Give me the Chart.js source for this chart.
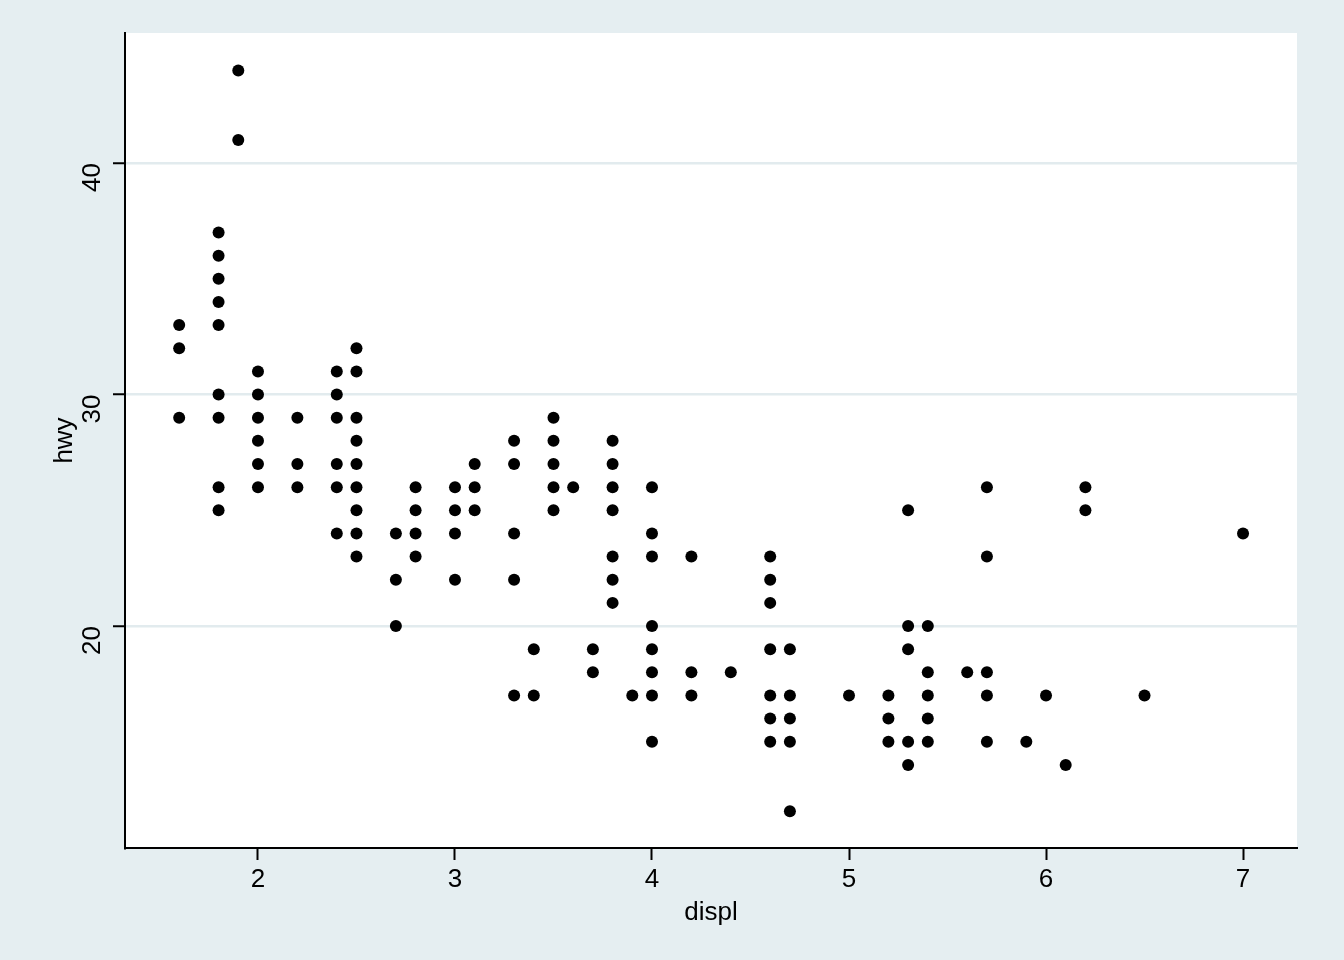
<!DOCTYPE html>
<html>
<head>
<meta charset="utf-8">
<script src="https://cdn.jsdelivr.net/npm/chart.js@4"></script>
<style>
  html, body { margin: 0; padding: 0; background: #e5eef1; }
  #wrap { width: 1344px; height: 960px; }
</style>
</head>
<body>
<div id="wrap"><canvas id="chart" width="1344" height="960"></canvas></div>
<script>
// engine displacement (litres) and highway mpg, one entry per dot
const displ = [
  1.6, 1.6, 1.6,
  1.8, 1.8, 1.8, 1.8, 1.8, 1.8, 1.8, 1.8, 1.8,
  1.9, 1.9,
  2.0, 2.0, 2.0, 2.0, 2.0, 2.0,
  2.2, 2.2, 2.2,
  2.4, 2.4, 2.4, 2.4, 2.4, 2.4,
  2.5, 2.5, 2.5, 2.5, 2.5, 2.5, 2.5, 2.5, 2.5,
  2.7, 2.7, 2.7,
  2.8, 2.8, 2.8, 2.8,
  3.0, 3.0, 3.0, 3.0,
  3.1, 3.1, 3.1,
  3.3, 3.3, 3.3, 3.3, 3.3,
  3.4, 3.4,
  3.5, 3.5, 3.5, 3.5, 3.5,
  3.6,
  3.7, 3.7,
  3.8, 3.8, 3.8, 3.8, 3.8, 3.8, 3.8,
  3.9,
  4.0, 4.0, 4.0, 4.0, 4.0, 4.0, 4.0, 4.0,
  4.2, 4.2, 4.2,
  4.4,
  4.6, 4.6, 4.6, 4.6, 4.6, 4.6, 4.6,
  4.7, 4.7, 4.7, 4.7, 4.7,
  5.0,
  5.2, 5.2, 5.2,
  5.3, 5.3, 5.3, 5.3, 5.3,
  5.4, 5.4, 5.4, 5.4, 5.4,
  5.6,
  5.7, 5.7, 5.7, 5.7, 5.7,
  5.9,
  6.0,
  6.1,
  6.2, 6.2,
  6.5,
  7.0
];
const hwy = [
  33, 32, 29,
  37, 36, 35, 34, 33, 30, 29, 26, 25,
  44, 41,
  31, 30, 29, 28, 27, 26,
  29, 27, 26,
  31, 30, 29, 27, 26, 24,
  32, 31, 29, 28, 27, 26, 25, 24, 23,
  24, 22, 20,
  26, 25, 24, 23,
  26, 25, 24, 22,
  27, 26, 25,
  28, 27, 24, 22, 17,
  19, 17,
  29, 28, 27, 26, 25,
  26,
  19, 18,
  28, 27, 26, 25, 23, 22, 21,
  17,
  26, 24, 23, 20, 19, 18, 17, 15,
  23, 18, 17,
  18,
  23, 22, 21, 19, 17, 16, 15,
  19, 17, 16, 15, 12,
  17,
  17, 16, 15,
  25, 20, 19, 15, 14,
  20, 18, 17, 16, 15,
  18,
  26, 23, 18, 17, 15,
  15,
  17,
  14,
  26, 25,
  17,
  24
];
const xTicks = [2, 3, 4, 5, 6, 7];
const yTicks = [20, 30, 40];

const bgColor = "#e5eef1";
const gridColor = "#e2ebee";
const font = { family: "'Liberation Sans', Arial, sans-serif", size: 26 };

const points = displ.map((d, i) => ({ x: d, y: hwy[i] }));

// paint the grey page and the white plot region
const background = {
  id: "background",
  beforeDraw(chart) {
    const { ctx, chartArea: a } = chart;
    ctx.save();
    ctx.fillStyle = bgColor;
    ctx.fillRect(0, 0, chart.width, chart.height);
    ctx.fillStyle = "#ffffff";
    ctx.fillRect(a.left, a.top, a.right - a.left, a.bottom - a.top);
    ctx.restore();
  }
};

new Chart(document.getElementById("chart"), {
  type: "scatter",
  data: {
    datasets: [{
      data: points,
      backgroundColor: "#000000",
      borderWidth: 0,
      pointRadius: 6,
      pointHoverRadius: 6
    }]
  },
  options: {
    responsive: false,
    animation: false,
    layout: { padding: { left: 0, top: 33, right: 47, bottom: 0 } },
    plugins: { legend: { display: false }, tooltip: { enabled: false } },
    scales: {
      x: {
        type: "linear",
        position: "bottom",
        min: 1.325,
        max: 7.274,
        afterBuildTicks: s => { s.ticks = xTicks.map(v => ({ value: v })); },
        afterFit: s => { s.height = 112; s.paddingLeft = 0; s.paddingRight = 0; },
        grid: { drawOnChartArea: false, tickLength: 12, tickColor: "#000", tickWidth: 2 },
        border: { color: "#000", width: 2 },
        ticks: { color: "#000", font: font, padding: 4, maxRotation: 0 },
        title: { display: true, text: "displ", color: "#000", font: font, padding: { top: 0, bottom: 32 } }
      },
      y: {
        type: "linear",
        min: 10.41,
        max: 45.62,
        afterBuildTicks: s => { s.ticks = yTicks.map(v => ({ value: v })); },
        afterFit: s => { s.width = 125; s.paddingTop = 0; s.paddingBottom = 0; },
        grid: { color: gridColor, lineWidth: 2.5, tickLength: 12, tickColor: "#000", tickWidth: 2 },
        border: { color: "#000", width: 2 },
        ticks: { color: "#000", font: font, padding: 20, minRotation: 90, maxRotation: 90 },
        title: { display: true, text: "hwy", color: "#000", font: font, padding: { top: 49, bottom: 0 } }
      }
    }
  },
  plugins: [background]
});
</script>
</body>
</html>
